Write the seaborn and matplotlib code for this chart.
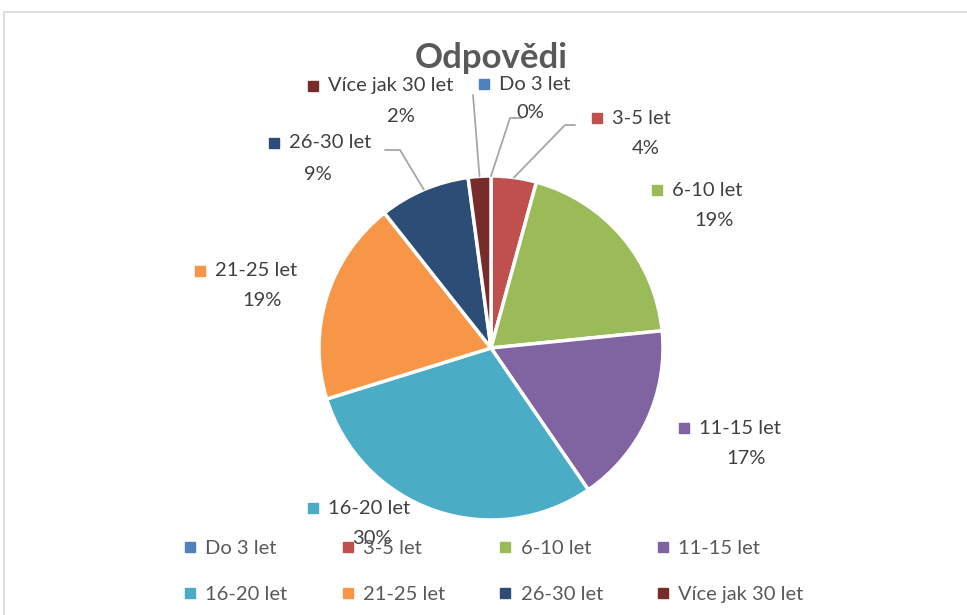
import numpy as np
import seaborn as sns
from matplotlib import pyplot as plt
from matplotlib.lines import Line2D
from matplotlib.patches import Rectangle

sns.set_theme(style="white")
plt.rcParams['font.family'] = ['Lato', 'DejaVu Sans']

# data
categories = ["Do 3 let", "3-5 let", "6-10 let", "11-15 let",
              "16-20 let", "21-25 let", "26-30 let", "Více jak 30 let"]
counts = [0, 2, 9, 8, 14, 9, 4, 1]
colors = ["#4F81BD", "#C0504D", "#9BBB59", "#8064A2",
          "#4BACC6", "#F79646", "#2C4D75", "#772C2A"]
palette = sns.color_palette(colors)

W, H = 967, 615
fig = plt.figure(figsize=(W / 100, H / 100), dpi=100)
ax = fig.add_axes([0, 0, 1, 1])

def py(y):
    # pixel row (top-down) -> data y
    return H - y

cx, cy, r = 491, py(348), 172
ax.pie(counts, colors=palette, startangle=90, counterclock=False,
       center=(cx, cy), radius=r, frame=True,
       wedgeprops=dict(edgecolor="white", linewidth=2.5))
ax.set_xlim(0, W)
ax.set_ylim(0, H)
ax.axis("off")

# chart border
ax.add_patch(Rectangle((4, -20), W + 20, py(12) + 20, fill=False,
                       edgecolor="#D9D9D9", linewidth=1.2))

ax.text(491, py(58), "Odpovědi", ha="center", va="center",
        fontsize=25, fontweight="bold", color="#595959")

total = sum(counts)
pcts = [round(c / total * 100) for c in counts]

# label layout: square x, name row, percent centre x, percent row
label_pos = {
    "Do 3 let": (484, 84, 530, 113),
    "3-5 let": (597, 118, 646, 149),
    "6-10 let": (657, 190, 714, 221),
    "11-15 let": (684, 428, 746, 459),
    "16-20 let": (313, 508, 372, 538),
    "21-25 let": (200, 271, 262, 301),
    "26-30 let": (274, 143, 318, 174),
    "Více jak 30 let": (313, 86, 401, 116),
}
leaders = {
    "Do 3 let": [(522, 118), (510, 118)],
    "3-5 let": [(575, 125), (565, 125)],
    "26-30 let": [(385, 150), (400, 150)],
    "Více jak 30 let": [(473, 95)],
}

tc = "#404040"
fs = 14.5
cum = 0
for cat, c, col, p in zip(categories, counts, palette, pcts):
    mid = cum + c / 2
    cum += c
    sx, ny, pxc, pyy = label_pos[cat]
    ax.plot(sx, py(ny), marker="s", ms=7, color=col, linestyle="none")
    ax.text(sx + 15, py(ny), cat, ha="left", va="center",
            fontsize=fs, color=tc)
    ax.text(pxc, py(pyy), f"{p}%", ha="center", va="center",
            fontsize=fs, color=tc)
    if cat in leaders:
        ang = np.deg2rad(90 - 360 * mid / total)
        ex, ey = cx + r * np.cos(ang), cy + r * np.sin(ang)
        pts = [(x, py(y)) for x, y in leaders[cat]] + [(ex, ey)]
        ax.plot([p_[0] for p_ in pts], [p_[1] for p_ in pts],
                color="#A6A6A6", linewidth=1.3)

# legend filled row by row
order = [0, 4, 1, 5, 2, 6, 3, 7]
handles = [Line2D([], [], marker="s", ms=7, color=palette[i], linestyle="none")
           for i in order]
leg = ax.legend(handles, [categories[i] for i in order], ncol=4,
                loc="upper left", bbox_to_anchor=(173 / W, 1 - 530 / H),
                frameon=False, fontsize=fs, handlelength=0.7,
                handletextpad=0.4, columnspacing=2.65, labelspacing=1.45,
                borderpad=0)
for t in leg.get_texts():
    t.set_color("#595959")

plt.savefig("out.png", dpi=100)
